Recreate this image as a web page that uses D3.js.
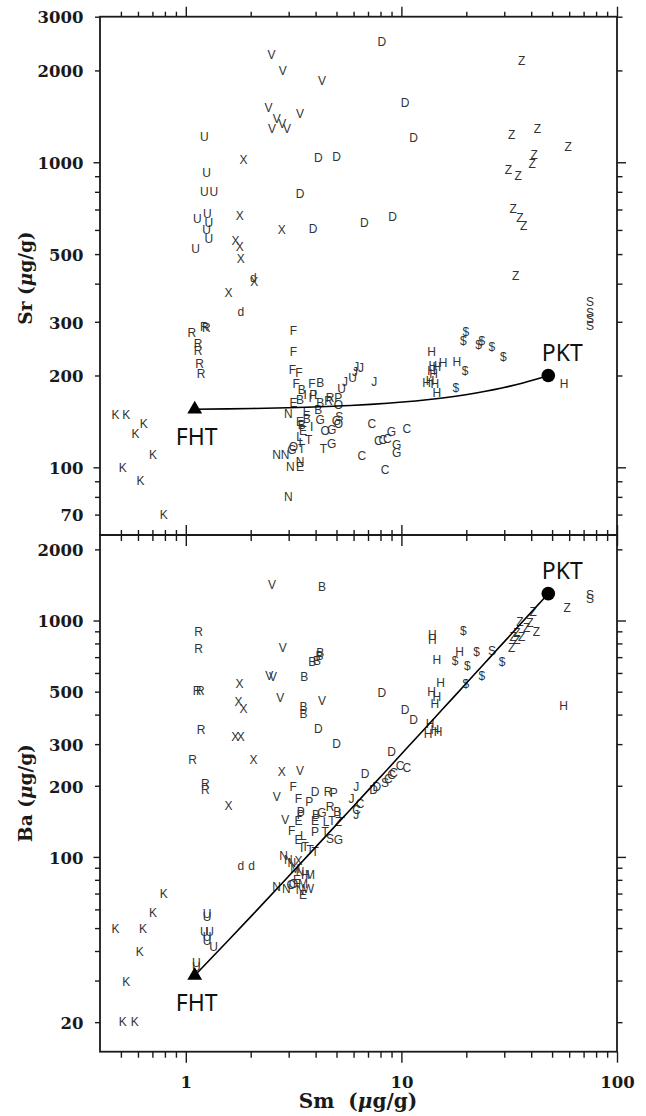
<!DOCTYPE html>
<html>
<head>
<meta charset="utf-8">
<script src="https://cdn.jsdelivr.net/npm/d3@7"></script>
<style>
  html, body { margin: 0; padding: 0; background: #fff; }
  svg { display: block; }
  .codes { opacity: 0.999; }
</style>
</head>
<body>
<svg id="chart" width="646" height="1116"></svg>
<script>
// ---- Axis ranges and ticks ----
const smDomain = [0.4, 100];
const srDomain = [60, 3000];
const baDomain = [15, 2300];

const smTicks = [0.5, 0.6, 0.7, 0.8, 0.9, 1, 2, 3, 4, 5, 6, 7, 8, 9, 10, 20, 30, 40, 50, 60, 70, 80, 90, 100];
const smTickLabels = [1, 10, 100];
const srTicks = [70, 80, 90, 100, 200, 300, 400, 500, 600, 700, 800, 900, 1000, 2000, 3000];
const srTickLabels = [70, 100, 200, 300, 500, 1000, 2000, 3000];
const baTicks = [20, 30, 40, 50, 60, 70, 80, 90, 100, 200, 300, 400, 500, 600, 700, 800, 900, 1000, 2000];
const baTickLabels = [20, 100, 200, 300, 500, 1000, 2000];

// ---- End-members of the mixing model (µg/g) ----
const endFHT = { name: "FHT", sm: 1.1, sr: 155, ba: 31.5 };
const endPKT = { name: "PKT", sm: 48, sr: 200, ba: 1300 };
const mixFractions = [0, 0.01, 0.02, 0.04, 0.06, 0.08, 0.1, 0.13, 0.16, 0.2, 0.25, 0.3, 0.35, 0.4, 0.45, 0.5, 0.55, 0.6, 0.65, 0.7, 0.75, 0.8, 0.85, 0.9, 0.95, 1];

// ---- Samples: [site code, Sm, Sr] ----
const smSr = [
  ["V",2.5,2250],["V",2.82,2000],["V",4.28,1845],["V",2.42,1510],["V",3.39,1445],["V",2.64,1385],["V",2.51,1285],["V",2.95,1285],["V",2.8,1335],
  ["U",1.22,1212],["U",1.25,923],["U",1.22,800],["U",1.35,800],["U",1.13,652],["U",1.26,680],["U",1.28,632],["U",1.25,599],["U",1.28,563],["U",1.11,519],
  ["X",1.85,1016],["X",1.78,666],["X",2.79,599],["X",1.70,555],["X",1.78,528],["X",1.80,484],["X",1.58,373],["X",2.08,406],
  ["d",2.06,417],["d",1.80,323],
  ["D",8.11,2478],["D",10.4,1568],["D",11.4,1200],["D",4.12,1032],["D",5.0,1040],["D",3.39,790],["D",3.89,607],["D",6.74,633],["D",9.09,662],
  ["Z",36.1,2150],["Z",32.5,1228],["Z",42.7,1290],["Z",59.3,1123],["Z",41.3,1060],["Z",40.4,986],["Z",31.4,942],["Z",34.8,907],["Z",33.0,704],["Z",35.5,660],["Z",36.9,620],["Z",33.9,426],
  ["S",75,350],["S",75,321],["S",75,306],["S",75,292],
  ["$",19.9,279],["$",19.4,261],["$",22.8,252],["$",23.6,261],["$",26.3,248],["$",29.7,230],["$",19.75,208],["$",17.9,183],
  ["H",13.8,240],["H",15.6,221],["H",18.1,222],["H",13.8,208],["H",14.0,216],["H",13.6,193],["H",13.1,190],["H",14.6,213],["H",14.3,188],["H",14.6,175],["H",56.9,188],["H",14.1,202],
  ["C",7.29,139.5],["C",10.6,134],["C",6.55,109],["C",8.4,98.5],["C",7.82,122],["C",8.6,124.5],["C",8.2,123],
  ["G",9.0,131],["G",9.5,118.4],["G",9.5,112],["G",4.75,119.8],["G",5.0,142],["G",4.75,132.6],["G",3.11,114],["G",4.2,143],
  ["K",0.472,149.3],["K",0.53,149.3],["K",0.638,139.2],["K",0.584,129],["K",0.705,109.8],["K",0.51,100],["K",0.616,90.4],["K",0.79,69.8],
  ["R",1.068,277],["R",1.218,289],["R",1.244,287],["R",1.139,254],["R",1.139,242],["R",1.158,218],["R",1.176,203],["R",4.67,168.6],["R",4.6,165],
  ["F",3.16,280],["F",3.16,240],["F",3.12,209],["F",3.35,205],["F",3.25,188],["F",3.85,188],
  ["B",4.2,190],["B",3.45,179.3],["B",3.39,166.3],["B",4.2,162.5],["B",4.12,154.2],["B",3.64,144.6],["B",3.45,137.7],
  ["J",6.17,214],["J",6.5,212],["J",6.1,206],["J",7.49,191],["J",5.48,191],
  ["U",5.93,196],["U",5.28,181],
  ["N",2.99,80.1],["N",2.64,109.8],["N",2.89,109.8],["N",3.05,100.5],["N",3.39,104.1],["N",2.99,150.3],
  ["E",3.39,100.5],["E",3.16,162.5],["E",3.64,152.5],["E",3.39,140.7],["E",3.5,131.5],
  ["T",4.35,115.4],["T",3.71,122.9],["T",3.45,115.4],
  ["S",5.15,146.5],
  ["P",5.1,169],["P",3.9,172.7],
  ["I",3.58,173],["I",3.77,169],["I",3.84,135.9],["I",3.39,120.5],
  ["L",4.07,173],["L",3.37,126],
  ["O",5.1,160],["O",5.1,139.5],["O",4.43,131.5],["O",3.16,117]
];

// ---- Samples: [site code, Sm, Ba] ----
const smBa = [
  ["V",2.51,1421],["V",2.82,771],["V",2.44,587],["V",2.54,578],["V",2.74,470],["V",4.28,460],["V",3.39,231],["V",2.64,179],["V",2.89,144],
  ["B",4.28,1390],["B",4.2,734],["B",4.17,709],["B",3.86,669],["B",4.06,679],["B",3.54,577],["B",3.52,434],["B",3.52,405],["B",5.04,156],["B",4.02,151],
  ["R",1.146,895],["R",1.146,761],["R",1.127,504],["R",1.167,504],["R",1.176,346],["R",1.075,257],["R",1.231,205],["R",1.231,192],["R",4.57,188],["R",4.67,163],
  ["X",1.776,542],["X",1.758,455],["X",1.852,425],["X",1.695,324],["X",1.8,324],["X",2.06,259],["X",2.79,230],["X",1.58,165],["X",3.33,96.2],
  ["D",4.12,350],["D",8.11,495],["D",10.4,420],["D",11.4,379],["D",5.0,302],["D",9.0,278],["D",6.79,224],["D",3.98,188],["D",7.43,192],["D",7.69,198],
  ["Z",58.8,1128],["Z",40.9,1091],["Z",39.5,977],["Z",42.3,899],["Z",38.1,937],["Z",36.1,855],["Z",34.3,884],["Z",32.5,764],["Z",34.3,826],["Z",35.5,987],["Z",33.0,855],["Z",5.1,141],
  ["S",75,1289],["S",75,1242],["S",26.3,749],["S",8.4,206],["S",4.67,120],
  ["$",19.4,910],["$",22.3,737],["$",17.75,679],["$",20.2,647],["$",29.3,669],["$",23.6,582],["$",19.9,538],
  ["H",13.9,873],["H",13.9,826],["H",14.6,686],["H",18.6,737],["H",15.2,545],["H",13.8,500],["H",14.6,476],["H",14.3,446],["H",56.6,435],["H",13.6,367],["H",14.3,344],["H",13.3,333],["H",14.8,338],["H",3.58,84.1],
  ["C",9.86,244],["C",10.6,238],["C",9.2,227],["C",8.7,215],["C",9.0,222],["C",6.43,168.5],["C",6.2,158],
  ["K",0.79,70],["K",0.705,58],["K",0.472,49.8],["K",0.633,49.8],["K",0.612,39.6],["K",0.53,29.6],["K",0.51,20],["K",0.58,20],
  ["U",1.254,57.6],["U",1.254,55.7],["U",1.218,48.1],["U",1.29,48.1],["U",1.254,45.9],["U",1.254,44.4],["U",1.345,41.6],["U",1.118,35.6],["U",1.118,34.3],
  ["d",1.8,92.2],["d",2.02,92.2],
  ["F",3.15,199],["F",3.33,177],["F",3.1,129],
  ["P",3.74,172],["P",4.86,187],["P",3.41,155],["P",3.41,151],["P",3.98,128],
  ["J",6.17,198],["J",5.87,176],["J",6.17,151],
  ["L",5.28,153],["L",4.47,141],["L",3.51,123.5],
  ["E",3.33,143],["E",3.98,143],["E",3.33,118],["E",3.28,80.1],["E",3.5,69.2],
  ["G",4.28,154],["G",5.1,118],
  ["T",4.76,143],["T",4.43,127.6],["T",3.58,110.2],["T",3.77,107],["T",3.98,105],
  ["I",3.45,109.6],
  ["N",2.84,101.7],["N",2.99,97.3],["N",3.1,94.4],["N",3.39,86.2],["N",3.39,72.7],["N",2.64,75.2],["N",2.93,73.5],
  ["M",3.215,89.6],["M",3.77,84.1],["M",3.5,77.1],
  ["W",3.7,73.7],
  ["O",3.08,76.3],["O",3.16,77.3]
];

// ---- Layout ----
const frame = { left: 100, right: 617, top: 16.7, mid: 535, bottom: 1051.7 };
const ink = "#1a1a1a";
const serif = "'DejaVu Serif', serif";

const svg = d3.select("#chart");

const x = d3.scaleLog().domain(smDomain).range([frame.left, frame.right]);
const ySr = d3.scaleLog().domain(srDomain).range([frame.mid, frame.top]);
const yBa = d3.scaleLog().domain(baDomain).range([frame.bottom, frame.mid]);

const isDecade = v => Math.abs(Math.log10(v) - Math.round(Math.log10(v))) < 1e-9;

// Draws one axis with outward ticks; decade ticks are longer where requested.
function drawAxis(axisGen, translate, ticks, labels, opts) {
  const g = svg.append("g")
    .attr("transform", `translate(${translate[0]},${translate[1]})`)
    .call(axisGen.tickValues(ticks).tickSizeOuter(0)
      .tickFormat(d => labels.includes(d) ? String(d) : ""));
  g.select(".domain").remove();
  g.attr("font-family", serif).attr("font-size", 16.5).attr("font-weight", "bold");
  g.selectAll(".tick line")
    .attr("stroke", ink).attr("stroke-width", 1.4)
    .each(function (d) {
      const len = isDecade(d) ? opts.major : opts.minor;
      const el = d3.select(this);
      if (opts.dir === "left") el.attr("x2", -len);
      if (opts.dir === "right") el.attr("x2", len);
      if (opts.dir === "top") el.attr("y2", -len);
      if (opts.dir === "bottom") el.attr("y2", len);
    });
  g.selectAll(".tick text").attr("fill", ink);
  return g;
}

function drawPanel(yScale, yTicks, yLabels, yTop, yBottom, points, yKey, title, titleCenter, showXLabels) {
  // sample codes
  svg.append("g")
    .attr("class", "codes")
    .attr("font-family", "'Liberation Sans', Arial, sans-serif")
    .attr("font-size", 12)
    .attr("fill", "#333")
    .attr("text-anchor", "middle")
    .selectAll("text")
    .data(points)
    .join("text")
    .attr("x", d => x(d[1]))
    .attr("y", d => yScale(d[2]))
    .attr("dy", "0.36em")
    .text(d => d[0]);

  // two-end-member mixing line
  const mix = mixFractions.map(f => ({
    sm: (1 - f) * endFHT.sm + f * endPKT.sm,
    v: (1 - f) * endFHT[yKey] + f * endPKT[yKey]
  }));
  svg.append("path")
    .datum(mix)
    .attr("fill", "none")
    .attr("stroke", "#000")
    .attr("stroke-width", 1.6)
    .attr("d", d3.line().x(d => x(d.sm)).y(d => yScale(d.v)).curve(d3.curveMonotoneX));

  // end-member markers
  svg.append("path")
    .attr("transform", `translate(${x(endFHT.sm)},${yScale(endFHT[yKey])})`)
    .attr("d", d3.symbol(d3.symbolTriangle, 95)())
    .attr("fill", "#000");
  svg.append("circle")
    .attr("cx", x(endPKT.sm)).attr("cy", yScale(endPKT[yKey]))
    .attr("r", 6.8).attr("fill", "#000");

  const endLabel = svg.append("g")
    .attr("class", "codes")
    .attr("font-family", "'Noto Sans', sans-serif")
    .attr("font-size", 23)
    .attr("fill", "#111")
    .attr("text-anchor", "middle");
  endLabel.append("text")
    .attr("x", x(endFHT.sm) + 2).attr("y", yScale(endFHT[yKey]) + 27)
    .attr("dy", "0.36em").text(endFHT.name);
  endLabel.append("text")
    .attr("x", x(endPKT.sm) + 14).attr("y", yScale(endPKT[yKey]) - 23)
    .attr("dy", "0.36em").text(endPKT.name);

  // axes
  drawAxis(d3.axisLeft(yScale), [frame.left, 0], yTicks, yLabels, { dir: "left", major: 6.5, minor: 5 })
    .selectAll(".tick text").attr("x", -16.5).attr("dy", "0.38em");
  drawAxis(d3.axisRight(yScale), [frame.right, 0], yTicks, [], { dir: "right", major: 9, minor: 5.5 });
  drawAxis(d3.axisTop(x), [0, yTop], smTicks, [], { dir: "top", major: 10, minor: 5 });
  const xb = drawAxis(d3.axisBottom(x), [0, yBottom], smTicks, showXLabels ? smTickLabels : [], { dir: "bottom", major: 11, minor: 6 });
  xb.selectAll(".tick text").attr("y", 36.5).attr("dy", 0);

  // frame
  svg.append("rect")
    .attr("x", frame.left).attr("y", yTop)
    .attr("width", frame.right - frame.left).attr("height", yBottom - yTop)
    .attr("fill", "none").attr("stroke", ink).attr("stroke-width", 1.8);

  // y title
  const t = svg.append("text")
    .attr("transform", `translate(31.5,${titleCenter}) rotate(-90)`)
    .attr("text-anchor", "middle")
    .attr("font-family", serif).attr("font-weight", "bold").attr("font-size", 18.5)
    .attr("fill", ink)
    .style("white-space", "pre");
  t.append("tspan").text(title + " (");
  t.append("tspan").attr("font-style", "italic").text("\u03bc");
  t.append("tspan").text("g/g)");
}

drawPanel(ySr, srTicks, srTickLabels, frame.top, frame.mid, smSr, "sr", "Sr", 278, false);
drawPanel(yBa, baTicks, baTickLabels, frame.mid, frame.bottom, smBa, "ba", "Ba", 793, true);

// x title
const xt = svg.append("text")
  .attr("x", 358).attr("y", 1108)
  .attr("text-anchor", "middle")
  .attr("font-family", serif).attr("font-weight", "bold").attr("font-size", 20)
  .attr("fill", ink)
  .style("white-space", "pre");
xt.append("tspan").text("Sm  (");
xt.append("tspan").attr("font-style", "italic").text("\u03bc");
xt.append("tspan").text("g/g)");
</script>
</body>
</html>
